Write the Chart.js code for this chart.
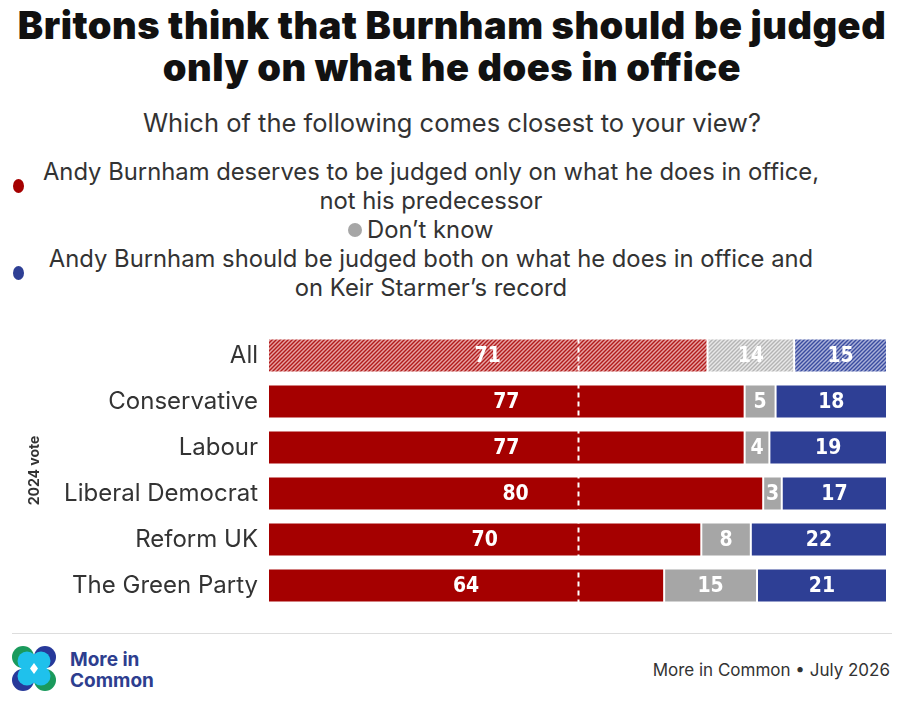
<!DOCTYPE html>
<html>
<head>
<meta charset="utf-8">
<script src="https://cdn.jsdelivr.net/npm/chart.js@4.4.1/dist/chart.umd.min.js"></script>
<style>
    body { margin: 0; width: 904px; height: 710px; background: #fff; font-family: Inter, 'DejaVu Sans', sans-serif; color: #333; position: relative; overflow: hidden; }
    #title { position: absolute; top: 4px; left: 0; width: 904px; text-align: center; font-weight: 900; font-size: 38px; line-height: 42px; color: #111; letter-spacing: 0.5px; }
    #subtitle { position: absolute; top: 107px; left: 0; width: 904px; text-align: center; font-size: 25.5px; line-height: 32px; color: #333; }
    .legend-row { position: absolute; left: 0; width: 904px; display: flex; align-items: center; font-size: 23.8px; line-height: 29px; color: #333; }
    .legend-row .txt { text-align: center; }
    .dot { display: inline-block; border-radius: 50%; flex: none; }
    #chart-wrap { position: absolute; left: 0; top: 316px; width: 904px; height: 309px; }
    #footer-line { position: absolute; left: 12px; top: 633px; width: 880px; height: 1px; background: #ddd; }
    #logo { position: absolute; left: 12px; top: 646px; }
    #logo-text { position: absolute; left: 70px; top: 649px; font-weight: 700; font-size: 19px; line-height: 21px; color: #2d3e8f; }
    #source { position: absolute; right: 14px; top: 658px; font-size: 17px; line-height: 24px; color: #333; }
</style>
</head>
<body>
<div id="title">Britons think that Burnham should be judged<br>only on what he does in office</div>
<div id="subtitle">Which of the following comes closest to your view?</div>

<div class="legend-row" style="top:157px;">
    <span class="dot" style="width:11px;height:14px;background:#a50000;margin-left:13px;"></span>
    <span class="txt" style="width:820px;margin-left:-3px;">Andy Burnham deserves to be judged only on what he does in office,<br>not his predecessor</span>
</div>
<div class="legend-row" style="top:215px;">
    <span class="dot" style="width:14px;height:14px;background:#a6a6a6;margin-left:348px;"></span>
    <span class="txt" style="margin-left:5px;">Don’t know</span>
</div>
<div class="legend-row" style="top:244px;">
    <span class="dot" style="width:11px;height:14px;background:#2e3f95;margin-left:13px;"></span>
    <span class="txt" style="width:820px;margin-left:-3px;">Andy Burnham should be judged both on what he does in office and<br>on Keir Starmer’s record</span>
</div>

<div id="chart-wrap"><canvas id="chart" width="904" height="309"></canvas></div>

<div id="footer-line"></div>
<svg id="logo" width="44" height="45" viewBox="0 0 44 45">
    <circle cx="11" cy="11" r="11" fill="#1a9a5c"/>
    <circle cx="33" cy="11" r="11" fill="#27399a"/>
    <circle cx="11" cy="34" r="11" fill="#27399a"/>
    <circle cx="33" cy="34" r="11" fill="#1a9a5c"/>
    <circle cx="15" cy="15" r="9.5" fill="#1fc1ec"/>
    <circle cx="29" cy="15" r="9.5" fill="#1fc1ec"/>
    <circle cx="15" cy="30" r="9.5" fill="#1fc1ec"/>
    <circle cx="29" cy="30" r="9.5" fill="#1fc1ec"/>
    <path d="M22 17 L26 22.5 L22 28 L18 22.5 Z" fill="#fff"/>
</svg>
<div id="logo-text">More in<br>Common</div>
<div id="source">More in Common • July 2026</div>

<script>
    const categories = ['All', 'Conservative', 'Labour', 'Liberal Democrat', 'Reform UK', 'The Green Party'];
    const judgedInOffice = [71, 77, 77, 80, 70, 64];
    const dontKnow = [14, 5, 4, 3, 8, 15];
    const judgedOnBoth = [15, 18, 19, 17, 22, 21];

    const RED = '#a50000';
    const GREY = '#a6a6a6';
    const BLUE = '#2e3f95';

    // Diagonal hatch used for the "All" row
    function hatch(base, stripe) {
        const c = document.createElement('canvas');
        c.width = 4; c.height = 4;
        const g = c.getContext('2d');
        g.fillStyle = base;
        g.fillRect(0, 0, 4, 4);
        g.strokeStyle = stripe;
        g.lineWidth = 1.4;
        g.beginPath();
        g.moveTo(0, 4); g.lineTo(4, 0);
        g.moveTo(-1, 1); g.lineTo(1, -1);
        g.moveTo(3, 5); g.lineTo(5, 3);
        g.stroke();
        return g.createPattern(c, 'repeat');
    }

    const colorsFor = (solid, base, stripe) => categories.map((c, i) => i === 0 ? hatch(base, stripe) : solid);

    // 50% dashed marker
    const midLine = {
        id: 'midLine',
        afterDatasetsDraw(chart) {
            const { ctx, chartArea, scales } = chart;
            const x = Math.round(scales.x.getPixelForValue(50)) + 0.5;
            ctx.save();
            ctx.strokeStyle = '#fff';
            ctx.lineWidth = 2;
            ctx.setLineDash([5, 4]);
            ctx.beginPath();
            ctx.moveTo(x, chartArea.top + 6);
            ctx.lineTo(x, chartArea.bottom - 6);
            ctx.stroke();
            ctx.restore();
        }
    };

    // numbers in the middle of each segment
    const segmentLabels = {
        id: 'segmentLabels',
        afterDatasetsDraw(chart) {
            const { ctx } = chart;
            ctx.save();
            ctx.fillStyle = '#fff';
            ctx.font = "bold 21px 'Liberation Sans Narrow', 'DejaVu Sans Condensed', Roboto, sans-serif";
            ctx.textAlign = 'center';
            ctx.textBaseline = 'middle';
            chart.data.datasets.forEach((ds, di) => {
                chart.getDatasetMeta(di).data.forEach((bar, i) => {
                    const { x, y, base } = bar.getProps(['x', 'y', 'base'], true);
                    ctx.fillText(ds.data[i], (x + base) / 2, y + 1);
                });
            });
            ctx.restore();
        }
    };

    new Chart(document.getElementById('chart'), {
        type: 'bar',
        data: {
            labels: categories,
            datasets: [{
                label: 'Andy Burnham deserves to be judged only on what he does in office, not his predecessor',
                data: judgedInOffice,
                backgroundColor: colorsFor(RED, '#e6a3a3', '#b11c1c'),
            }, {
                label: 'Don’t know',
                data: dontKnow,
                backgroundColor: colorsFor(GREY, '#e8e8e8', '#b4b4b4'),
            }, {
                label: 'Andy Burnham should be judged both on what he does in office and on Keir Starmer’s record',
                data: judgedOnBoth,
                backgroundColor: colorsFor(BLUE, '#a9b0d8', '#3a4ca0'),
            }].map(ds => Object.assign(ds, {
                borderColor: 'rgba(255,255,255,0.55)',
                borderWidth: 1,
                borderSkipped: false,
                barPercentage: 0.74,
                categoryPercentage: 1,
            }))
        },
        options: {
            indexAxis: 'y',
            responsive: false,
            animation: false,
            layout: { padding: { top: 6, bottom: 8, left: 0, right: 17 } },
            plugins: { legend: { display: false }, tooltip: { enabled: false } },
            scales: {
                x: { stacked: true, min: 0, max: 100, display: false },
                y: {
                    stacked: true,
                    grid: { display: false },
                    border: { display: false },
                    ticks: { color: '#333', font: { family: 'Inter', size: 24 }, padding: 2 },
                    title: {
                        display: true,
                        text: '2024 vote',
                        color: '#333',
                        font: { family: 'Inter', size: 14, weight: 'bold' },
                        padding: { top: 26, bottom: 0 }
                    },
                    afterFit(scale) { scale.width = 268; }
                }
            }
        },
        plugins: [midLine, segmentLabels]
    });
</script>
</body>
</html>
